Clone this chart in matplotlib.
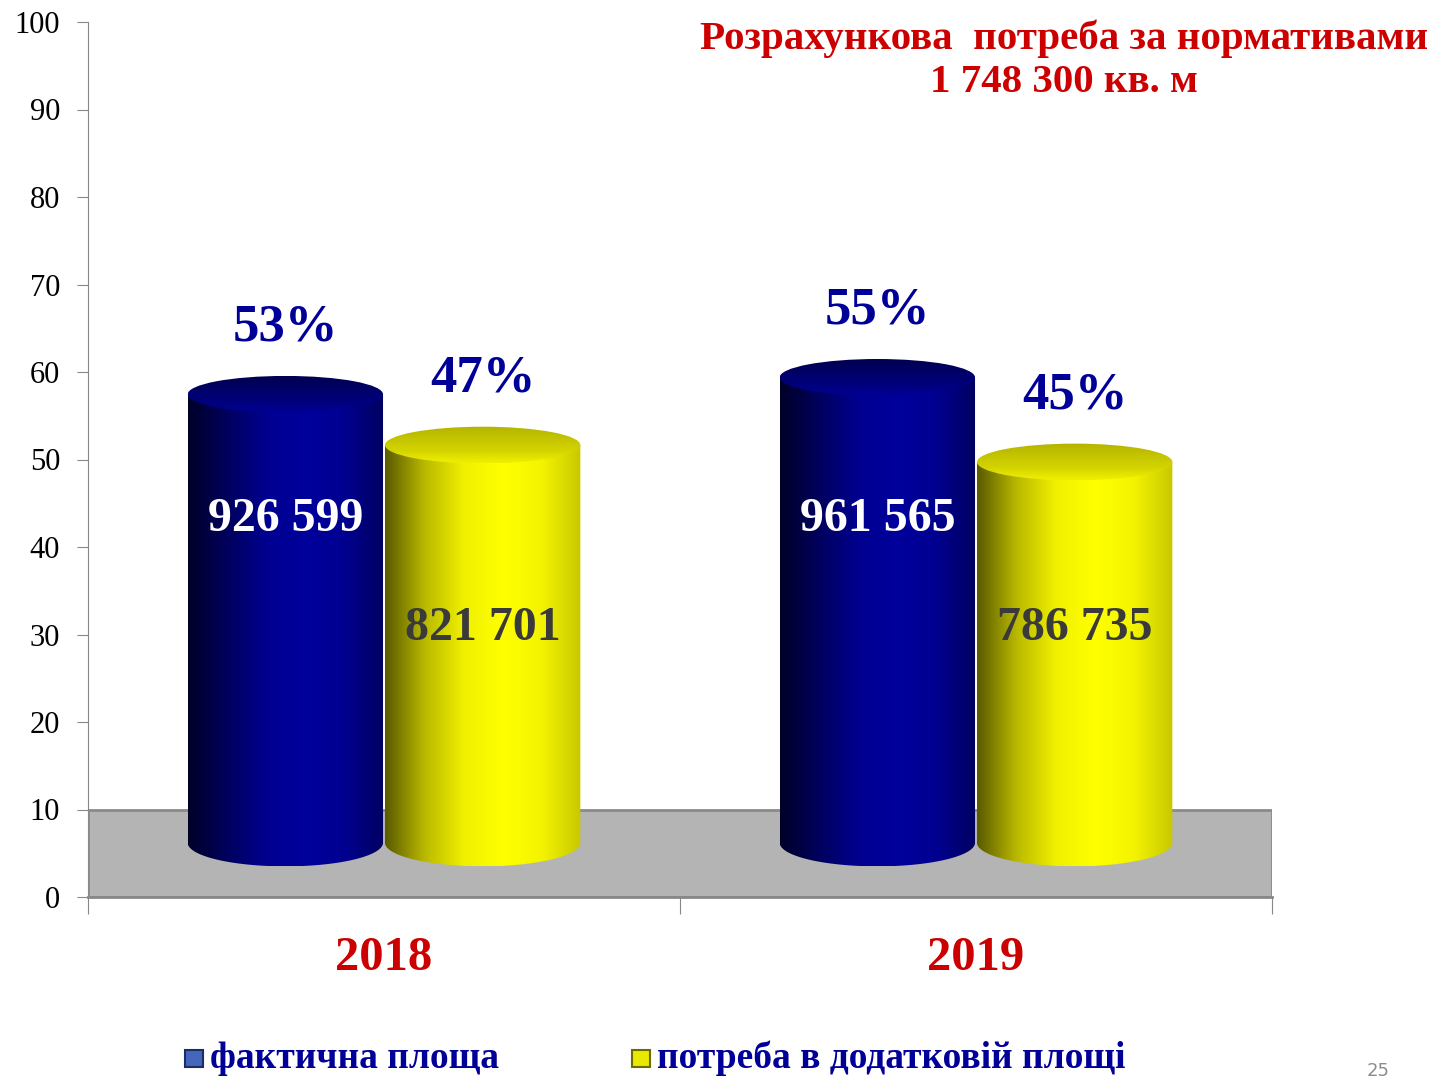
import numpy as np
import matplotlib
matplotlib.use("Agg")
from matplotlib import pyplot as plt
from matplotlib.colors import LinearSegmentedColormap
from matplotlib.patches import Rectangle, Ellipse, PathPatch
from matplotlib.path import Path

years = ["2018", "2019"]
series = ["фактична площа", "потреба в додатковій площі"]
percent = [[53, 55], [47, 45]]          # % per series per year
areas = [["926 599", "961 565"], ["821 701", "786 735"]]
title = "Розрахункова  потреба за нормативами\n1 748 300 кв. м"
page_no = "25"

plt.rcParams['font.family'] = ['Liberation Serif', 'DejaVu Serif']

# colours of the cylinders: body (left -> right) and top face (back -> front)
body_cols = [["#000028", "#00005e", "#000090", "#00009c", "#000090", "#000060"],
             ["#5a5a00", "#b8b800", "#f0f000", "#ffff00", "#f4f400", "#c8c800"]]
top_cols = [["#000050", "#000066", "#00007a", "#000096"],
            ["#b4b400", "#c4c400", "#d4d400", "#f0f000"]]
text_cols = ["white", "#3a3a3a"]

base, scale = 6.2, 0.967     # floor offset / perspective shrink
w = 0.33
top_h, bot_h = 4.2, 5.4

fig = plt.figure(figsize=(14.51, 10.79), dpi=100)
ax = fig.add_axes([88 / 1451, 1 - 897 / 1079, (1272 - 88) / 1451, (897 - 22) / 1079])

# grey floor
ax.add_patch(Rectangle((0, 0), 2, 10, facecolor="#b4b4b4", edgecolor="#8a8a8a",
                       linewidth=2, zorder=1))

grad = np.linspace(0, 1, 256).reshape(1, -1)
for s in range(2):
    cm_body = LinearSegmentedColormap.from_list("b%d" % s, body_cols[s])
    cm_top = LinearSegmentedColormap.from_list("t%d" % s, top_cols[s])
    for i in range(2):
        xc = i + 0.5 + (s - 0.5) * w * 1.01
        x0, x1 = xc - w / 2, xc + w / 2
        yt = base + percent[s][i] * scale
        # body outline: straight sides plus lower half ellipse
        t = np.linspace(np.pi, 2 * np.pi, 60)
        arc = np.column_stack([xc + w / 2 * np.cos(t), base + bot_h / 2 * np.sin(t)])
        verts = np.vstack([[[x0, yt], [x0, base]], arc, [[x1, yt], [x0, yt]]])
        path = Path(verts)
        clip = PathPatch(path, transform=ax.transData, facecolor="none", edgecolor="none")
        ax.add_patch(clip)
        im = ax.imshow(grad, cmap=cm_body, aspect="auto",
                       extent=[x0, x1, base - bot_h / 2, yt], zorder=3)
        im.set_clip_path(clip)
        # top face
        ell = Ellipse((xc, yt), w, top_h, transform=ax.transData,
                      facecolor="none", edgecolor="none")
        ax.add_patch(ell)
        im2 = ax.imshow(grad.T, cmap=cm_top, aspect="auto", origin="upper",
                        extent=[x0, x1, yt - top_h / 2, yt + top_h / 2], zorder=4)
        im2.set_clip_path(ell)
        # labels
        ax.text(xc, yt + 7.6, "%d%%" % percent[s][i], ha="center", va="center",
                fontsize=38, fontweight="bold", color="#000099", zorder=5)
        ax.text(xc, 43.2 if s == 0 else 30.7, areas[s][i], ha="center", va="center",
                fontsize=34.5, fontweight="bold", color=text_cols[s], zorder=5)

ax.set_xlim(0, 2)
ax.set_ylim(0, 100)
ax.set_yticks(range(0, 101, 10))
ax.set_xticks([0, 1, 2], labels=["", "", ""])
ax.set_xticks([0.5, 1.5], labels=years, minor=True)
ax.tick_params(axis="y", labelsize=22, length=8, color="#888888", pad=12)
ax.tick_params(axis="x", which="major", length=12, color="#888888")
ax.tick_params(axis="x", which="minor", length=0, pad=28, labelsize=35,
               labelcolor="#cc0000")
for lab in ax.get_xticklabels(minor=True):
    lab.set_fontweight("bold")
for side in ["top", "right"]:
    ax.spines[side].set_visible(False)
ax.spines["left"].set_color("#888888")
ax.spines["bottom"].set_color("#888888")
ax.spines["bottom"].set_linewidth(2)

fig.text(1064 / 1451, 1 - 60 / 1079, title, ha="center", va="center", fontsize=29.5,
         fontweight="bold", color="#cc0000", linespacing=1.22)

# legend
leg_x = [185, 632]
leg_cols = [("#4466bb", "#1a2e66"), ("#e8e800", "#6b6b00")]
for k in range(2):
    fig.patches.append(Rectangle((leg_x[k] / 1451, 1 - 1067 / 1079), 18 / 1451, 17 / 1079,
                                 transform=fig.transFigure, facecolor=leg_cols[k][0],
                                 edgecolor=leg_cols[k][1], linewidth=1.5))
    fig.text((leg_x[k] + 25) / 1451, 1 - 1058 / 1079, series[k], ha="left", va="center",
             fontsize=27, fontweight="bold", color="#000099")

fig.text(1378 / 1451, 1 - 1071 / 1079, page_no, ha="center", va="center", fontsize=13,
         color="#8c8c8c", family="DejaVu Sans")

fig.savefig("out.png", dpi=100)
